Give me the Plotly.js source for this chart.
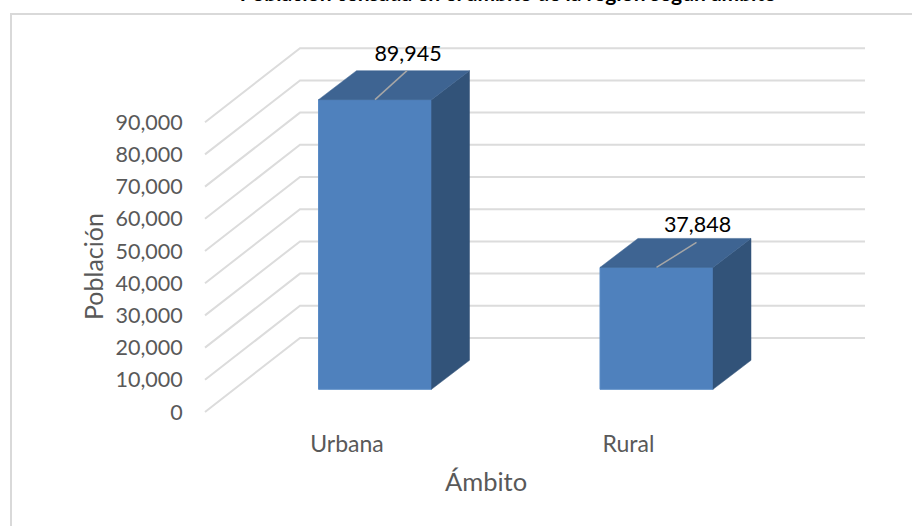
<!DOCTYPE html>
<html><head><meta charset="utf-8">
<script src="https://cdn.plot.ly/plotly-3.0.1.min.js"></script>
<style>html,body{margin:0;padding:0;background:#fff}#c{width:912px;height:526px}</style></head>
<body><div id="c"></div>
<script>
const categories = ['Urbana', 'Rural'];
const poblacion = [89945, 37848];
const tickValues = [0, 10000, 20000, 30000, 40000, 50000, 60000, 70000, 80000, 90000];
const chartTitle = 'Población censada en el ámbito de la región según ámbito';

// page pixels of the plot box
const L = 200, R = 866, T = 20, B = 416;
const W = 912, H = 526;
const zeroPx = 412, pxPer10k = 32.2, catPx = 281.5, cat0Px = 347;
const uy = 10000 / pxPer10k;               // population units per pixel
const ux = 1 / catPx;                      // category units per pixel
const xOf = p => (p - cat0Px) * ux;
const yOf = p => (zeroPx - p) * uy;
const paperX = p => (p - L) / (R - L);
const paperY = p => (B - p) / (B - T);

// oblique projection, in axis units
const wallDx = 95 * ux, wallDy = 74 * uy;
const barDx = 28 * ux, barDy = 22.7 * uy;
const sideDx = 38 * ux, sideDy = 29 * uy;
const barW = 113 * ux;

const idx = categories.map((_, i) => i);
const cx = idx.map(i => i + barDx);
const baseY = barDy;
const topY = poblacion.map(v => baseY + v);

const front = {type:'bar', x:cx, y:poblacion, base:idx.map(() => baseY), width:barW,
  marker:{color:'#4F81BD', line:{color:'#5B8CC6', width:1}}, hoverinfo:'skip', showlegend:false};

function face(xs, ys, color) {
  return {type:'scatter', mode:'lines', x:xs, y:ys, fill:'toself', fillcolor:color,
    line:{color:color, width:0.5}, hoverinfo:'skip', showlegend:false, cliponaxis:false};
}
const faces = [];
idx.forEach(i => {
  const l = cx[i] - barW/2, r = cx[i] + barW/2, t = topY[i];
  faces.push(face([r, r+sideDx, r+sideDx, r, r], [baseY, baseY+sideDy, t+sideDy, t, baseY], '#325379'));
  faces.push(face([l, r, r+sideDx, l+sideDx, l], [t, t, t+sideDy, t+sideDy, t], '#3E6492'));
});
const leaderDx = [32 * ux, 40 * ux], leaderDy = [29 * uy, 25 * uy];
const leaders = idx.map(i => ({type:'scatter', mode:'lines',
  x:[cx[i], cx[i] + leaderDx[i]], y:[topY[i], topY[i] + leaderDy[i]],
  line:{color:'#A6A6A6', width:1.5}, hoverinfo:'skip', showlegend:false, cliponaxis:false}));
const labelDx = [33 * ux, 41 * ux], labelDy = [44.5 * uy, 40.5 * uy];
const labels = {type:'scatter', mode:'text', x:idx.map(i => cx[i] + labelDx[i]),
  y:idx.map(i => topY[i] + labelDy[i]),
  text:poblacion.map(v => v.toLocaleString('en-US')), textposition:'middle center',
  textfont:{family:'Lato', size:21.5, color:'#000000'}, hoverinfo:'skip', showlegend:false, cliponaxis:false};

const grid = tickValues.map(t => ({type:'path', layer:'below', xref:'x', yref:'y',
  path:`M ${xOf(205)} ${t} L ${xOf(205)+wallDx} ${t+wallDy} L ${xOf(865)} ${t+wallDy}`,
  line:{color:'#DCDCDC', width:2}}));
const border = {type:'path', xref:'paper', yref:'paper', layer:'below',
  path:`M ${paperX(11)} ${paperY(526)} L ${paperX(11)} ${paperY(14)} L ${paperX(912)} ${paperY(14)}`,
  line:{color:'#D9D9D9', width:2}};

const layout = {
  width:W, height:H, margin:{l:L, r:W-R, t:T, b:H-B, pad:0},
  paper_bgcolor:'#fff', plot_bgcolor:'rgba(0,0,0,0)', showlegend:false,
  title:{text:'<b>'+chartTitle+'</b>', font:{family:'Lato', size:21, color:'#000'},
    xref:'paper', x:paperX(508), xanchor:'center', yref:'container', y:0.998, yanchor:'bottom', pad:{t:0,b:0,l:0,r:0}},
  xaxis:{range:[xOf(L), xOf(R)], tickmode:'array', tickvals:idx, ticktext:categories,
    showgrid:false, zeroline:false, showline:false, ticks:'outside', ticklen:7, tickcolor:'rgba(0,0,0,0)',
    tickfont:{family:'Lato', size:23, color:'#595959'}, fixedrange:true},
  yaxis:{range:[yOf(B), yOf(T)], tickmode:'array', tickvals:tickValues, tickformat:',d',
    showgrid:false, zeroline:false, showline:false, ticks:'outside', ticklen:12, tickcolor:'rgba(0,0,0,0)',
    tickfont:{family:'Lato', size:21.5, color:'#595959'}, fixedrange:true},
  shapes:[border, ...grid],
  annotations:[
    {xref:'paper', yref:'paper', x:paperX(486), y:paperY(481), text:'Ámbito', showarrow:false,
      xanchor:'center', yanchor:'middle', font:{family:'Lato', size:25.5, color:'#595959'}},
    {xref:'paper', yref:'paper', x:paperX(93), y:paperY(267), text:'Población', showarrow:false, textangle:-90,
      xanchor:'center', yanchor:'middle', font:{family:'Lato', size:25, color:'#595959'}}
  ]
};
Plotly.newPlot('c', [front, ...faces, ...leaders, labels], layout, {displayModeBar:false, staticPlot:true});
</script></body></html>
